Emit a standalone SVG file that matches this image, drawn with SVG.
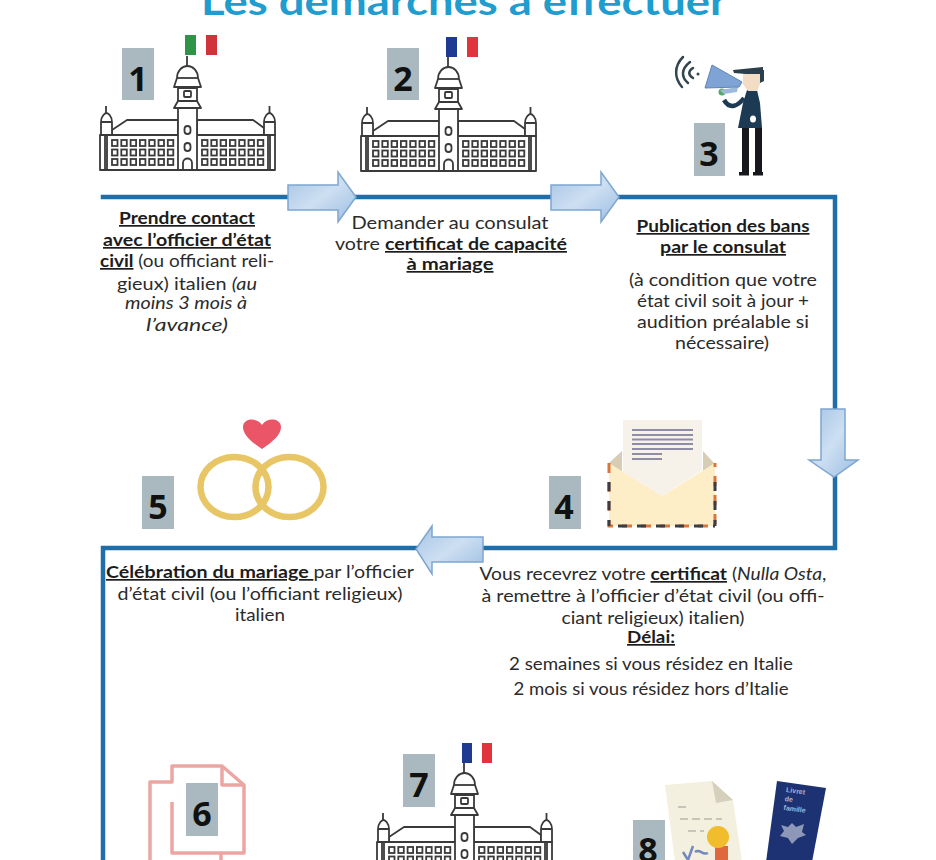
<svg xmlns="http://www.w3.org/2000/svg" width="936" height="860" viewBox="0 0 936 860">
<style>
.t{font-family:"Lato","Open Sans","Liberation Sans",sans-serif;font-size:17px;fill:#2b2b2b;text-anchor:middle}
.b{font-weight:700;text-decoration:underline;fill:#1c1c1c}
.i{font-style:italic}
.box{fill:#a9b9bf}
.num{font-family:"Open Sans","Liberation Sans",sans-serif;font-weight:700;font-size:34px;fill:#111;text-anchor:middle}
.ln{fill:none;stroke:#1f6ea8;stroke-width:4.5;stroke-linecap:square}
.arr{stroke:#7ea6cf;stroke-width:1.5;stroke-linejoin:miter}
.bd{fill:#fff;stroke:#3a3a3a;stroke-width:1.8;stroke-linejoin:round}
.win{fill:#fff;stroke:#3a3a3a;stroke-width:1.8}
.pink{fill:none;stroke:#eba6a2;stroke-width:3.5;stroke-linejoin:round}
</style>
<defs>
<linearGradient id="gh" x1="0" y1="0" x2="1" y2="1"><stop offset="0" stop-color="#a5c3e4"/><stop offset="0.5" stop-color="#cddff2"/><stop offset="1" stop-color="#9cbde2"/></linearGradient>
<g id="wr"><rect class="win" x="0" y="0" width="5.500" height="6"/><rect class="win" x="9.300" y="0" width="5.500" height="6"/><rect class="win" x="18.600" y="0" width="5.500" height="6"/><rect class="win" x="27.900" y="0" width="5.500" height="6"/><rect class="win" x="37.200" y="0" width="5.500" height="6"/><rect class="win" x="46.500" y="0" width="5.500" height="6"/><rect class="win" x="55.800" y="0" width="5.500" height="6"/></g>
<g id="bld">
<path class="bd" d="M112 135V130L127 120H178V135ZM197 120H253L264 128V135H197Z"/>
<rect class="bd" x="100" y="135" width="175" height="35"/>
<path class="bd" d="M106 106V113M269.500 106V113"/>
<path class="bd" d="M101 122V135H112V122C112 116 108 113 106.500 113C105 113 101 116 101 122ZM264 122V135H275V122C275 116 271 113 269.500 113C268 113 264 116 264 122Z"/>
<path class="bd" d="M101 122H112M264 122H275M105 135V170M107 135V170M268 135V170M270 135V170"/>
<rect class="bd" x="178" y="88" width="19" height="82"/>
<path class="bd" d="M174 108L178 101H197L201 108Z"/>
<path class="bd" d="M174 87L177 78C177 71 182 66 187.500 66C193 66 198 71 198 78L201 87Z"/>
<path class="bd" d="M177 78H198"/>
<rect class="win" x="184" y="91" width="7" height="6" rx="1"/>
<rect class="win" x="184.500" y="126" width="6" height="8" rx="3"/>
<rect class="win" x="184.500" y="143" width="6" height="8" rx="3"/>
<path class="bd" d="M183 170V163C183 157 192 157 192 163V170Z"/>
<use href="#wr" x="112" y="140"/><use href="#wr" x="112" y="149.500"/><use href="#wr" x="112" y="159"/>
<use href="#wr" x="202" y="140"/><use href="#wr" x="202" y="149.500"/><use href="#wr" x="202" y="159"/>
<path class="bd" d="M187 56V66"/>
</g>
</defs>
<rect width="936" height="860" fill="#fff"/>

<text id="title" x="464" y="15" font-family="Lato,'Open Sans','Liberation Sans',sans-serif" font-size="39" font-weight="700" fill="#1f9cd0" text-anchor="middle" textLength="526" lengthAdjust="spacingAndGlyphs">Les démarches à effectuer</text>

<g id="connectors">
<path class="ln" d="M103 197H835V548H103V860"/>
<path class="arr" fill="url(#gh)" d="M288 185H338V172L356 197L338 222V210H288Z"/>
<path class="arr" fill="url(#gh)" d="M551 185H601V172L619 197L601 222V210H551Z"/>
<path class="arr" fill="url(#gh)" d="M821 409H845V460H858L834 477L809 460H821Z"/>
<path class="arr" fill="url(#gh)" d="M483 537H432V526L416 549L432 574V562H483Z"/>
</g>

<g id="node1">
<use href="#bld"/>
<rect x="185" y="35" width="11" height="20" fill="#2f9447"/><rect x="206" y="35" width="11" height="20" fill="#d0343a"/>
<rect class="box" x="122" y="48" width="32" height="52"/><text class="num" x="138" y="91">1</text>
<text class="t" x="187" y="224" textLength="136" lengthAdjust="spacingAndGlyphs"><tspan class="b">Prendre contact</tspan></text>
<text class="t" x="187" y="246" textLength="168" lengthAdjust="spacingAndGlyphs"><tspan class="b">avec l’officier d’état</tspan></text>
<text class="t" x="187" y="267" textLength="174" lengthAdjust="spacingAndGlyphs"><tspan class="b">civil</tspan> (ou officiant reli-</text>
<text class="t" x="187" y="290" textLength="140" lengthAdjust="spacingAndGlyphs">gieux) italien <tspan class="i">(au</tspan></text>
<text class="t i" x="186" y="309" textLength="122" lengthAdjust="spacingAndGlyphs">moins 3 mois à</text>
<text class="t i" x="187" y="331" textLength="82" lengthAdjust="spacingAndGlyphs">l’avance)</text>
</g>

<g id="node2">
<use href="#bld" x="261" y="1"/>
<rect x="446" y="37" width="11" height="20" fill="#1f3a93"/><rect x="467" y="37" width="11" height="20" fill="#e2343f"/>
<rect class="box" x="387" y="48" width="32" height="52"/><text class="num" x="403" y="91">2</text>
<text class="t" x="450" y="229" textLength="197" lengthAdjust="spacingAndGlyphs">Demander au consulat</text>
<text class="t" x="451" y="250" textLength="232" lengthAdjust="spacingAndGlyphs">votre <tspan class="b">certificat de capacité</tspan></text>
<text class="t" x="450" y="270" textLength="87" lengthAdjust="spacingAndGlyphs"><tspan class="b">à mariage</tspan></text>
</g>

<g id="node3">
<path d="M683 57C674 66 674 78 682 87M690 62C681 69 681 77 688 83M693 68C688 71 688 75 693 78" fill="none" stroke="#33454f" stroke-width="2.500" stroke-linecap="round"/>
<circle cx="698" cy="74" r="1.500" fill="#33454f"/>
<rect x="742" y="128" width="7" height="45" fill="#16181c"/><rect x="755" y="128" width="7" height="45" fill="#16181c"/>
<rect x="739" y="172" width="10" height="3.500" fill="#16181c"/><rect x="753" y="172" width="10" height="3.500" fill="#16181c"/>
<path d="M747 90H757L760 103L762 128H738L743 103Z" fill="#1d3a55"/>
<path d="M744 98C738 106 730 110 724 100" fill="none" stroke="#1d3a55" stroke-width="4.500"/>
<ellipse cx="753" cy="119" rx="3" ry="3.500" fill="#fff"/>
<path d="M743 73H760V84L757 91H748L743 84Z" fill="#f3dcc4"/>
<path d="M760 70H764V81L760 83Z" fill="#2c3f4d"/>
<path d="M733 70L763 67V74L746 74L734 73Z" fill="#2c3f4d"/>
<circle cx="722" cy="92" r="3.500" fill="#58a868"/>
<path d="M720 90L738 87L737 92L724 94Z" fill="#9fb9dc"/>
<path d="M712 65L742 82L739 87L705 88Z" fill="#7fa3d4" stroke="#5d83b8"/>
<rect class="box" x="694" y="123" width="31" height="53"/><text class="num" x="709" y="166">3</text>
<text class="t" x="723" y="232" textLength="173" lengthAdjust="spacingAndGlyphs"><tspan class="b">Publication des bans</tspan></text>
<text class="t" x="723" y="253" textLength="126" lengthAdjust="spacingAndGlyphs"><tspan class="b">par le consulat</tspan></text>
<text class="t" x="723" y="286" textLength="188" lengthAdjust="spacingAndGlyphs">(à condition que votre</text>
<text class="t" x="723" y="307" textLength="172" lengthAdjust="spacingAndGlyphs">état civil soit à jour +</text>
<text class="t" x="723" y="328" textLength="172" lengthAdjust="spacingAndGlyphs">audition préalable si</text>
<text class="t" x="722" y="349" textLength="94" lengthAdjust="spacingAndGlyphs">nécessaire)</text>
</g>

<g id="node4">
<path d="M609 463L622 451V475ZM714 463L703 451V475Z" fill="#d6cdb4"/>
<path d="M609 463L662 496L715 463V526H609Z" fill="#fdeec8"/>
<path d="M623 420H702V470L662 496L623 472Z" fill="#f6f2e9"/>
<path d="M632 430H693M632 435H693M632 439.500H693M632 444H693M632 449H693M632 454H662M632 459H662" stroke="#8f8ca8" stroke-width="2.200"/>
<path d="M609 463V526H715V463" fill="none" stroke="#d9743a" stroke-width="3" stroke-dasharray="10 9"/>
<path d="M609 473V526M609 526H715M715 473V526" fill="none" stroke="#3a3d45" stroke-width="3" stroke-dasharray="9 10" stroke-dashoffset="-9"/>
<rect class="box" x="549" y="476" width="32" height="53"/><text class="num" x="564" y="519">4</text>
<text class="t" x="653" y="580" textLength="347" lengthAdjust="spacingAndGlyphs">Vous recevrez votre <tspan class="b">certificat</tspan> (<tspan class="i">Nulla Osta</tspan>,</text>
<text class="t" x="653" y="602" textLength="343" lengthAdjust="spacingAndGlyphs">à remettre à l’officier d’état civil (ou offi-</text>
<text class="t" x="653" y="624" textLength="183" lengthAdjust="spacingAndGlyphs">ciant religieux) italien)</text>
<text class="t" x="651" y="643" textLength="48" lengthAdjust="spacingAndGlyphs"><tspan class="b">Délai:</tspan></text>
<text class="t" x="651" y="670" textLength="284" lengthAdjust="spacingAndGlyphs">2 semaines si vous résidez en Italie</text>
<text class="t" x="651" y="695" textLength="275" lengthAdjust="spacingAndGlyphs">2 mois si vous résidez hors d’Italie</text>
</g>

<g id="node5">
<path d="M262 449C250 441 243 434 243 427C243 418 257 417 262 425C267 417 281 418 281 427C281 434 274 441 262 449Z" fill="#ea5568"/>
<ellipse cx="234.500" cy="487" rx="34" ry="30" fill="none" stroke="#e8c565" stroke-width="6.500"/>
<ellipse cx="289.500" cy="487" rx="34" ry="30" fill="none" stroke="#e8c565" stroke-width="6.500"/>
<rect class="box" x="142" y="476" width="32" height="53"/><text class="num" x="158" y="519">5</text>
<text class="t" x="260" y="578" textLength="308" lengthAdjust="spacingAndGlyphs"><tspan class="b">Célébration du mariage </tspan>par l’officier</text>
<text class="t" x="260" y="600" textLength="285" lengthAdjust="spacingAndGlyphs">d’état civil (ou l’officiant religieux)</text>
<text class="t" x="260" y="621" textLength="50" lengthAdjust="spacingAndGlyphs">italien</text>
</g>

<g id="node6">
<path class="pink" d="M172 802V853H244V785L222 766H172V782H150V862M221 853V862"/>
<path class="pink" d="M222 766V785H244"/>
<rect class="box" x="186" y="783" width="32" height="53"/><text class="num" x="202" y="826">6</text>
</g>

<g id="node7">
<use href="#bld" x="277" y="707"/>
<rect x="462" y="743" width="10" height="20" fill="#1f3a93"/><rect x="482" y="743" width="10" height="20" fill="#e2343f"/>
<rect class="box" x="403" y="754" width="32" height="53"/><text class="num" x="419" y="797">7</text>
</g>

<g id="node8">
<path d="M665 785L712 781L733 800L742 862H675Z" fill="#f3f0e0"/>
<path d="M712 781L733 800L716 803Z" fill="#d5d0bb"/>
<path d="M678 807H690M680 819H722M688 831H704" stroke="#b9b7ac" stroke-width="1.500" stroke-dasharray="8 4"/>
<path d="M683 852L688 860L693 846M695 852C700 848 702 856 708 853" fill="none" stroke="#7189bf" stroke-width="2.500"/>
<rect x="715" y="846" width="13" height="16" fill="#e0683e"/>
<circle cx="718" cy="837" r="11" fill="#f2bd2c"/>
<path d="M777 781L826 788L812 862H766Z" fill="#1d3272"/>
<g font-family="'Liberation Sans',sans-serif" font-size="7" font-weight="700" fill="#aab4d4" transform="rotate(8 786 791)"><text x="786" y="792">Livret</text><text x="786" y="801">de</text><text x="786" y="810">famille</text></g>
<path d="M792 823L796 827L804 824L802 832L806 835L798 838L792 844L788 838L780 836L784 831L781 825L788 827Z" fill="#8d97b8"/>
<rect class="box" x="633" y="820" width="32" height="42"/><text class="num" x="648" y="862">8</text>
</g>
</svg>
